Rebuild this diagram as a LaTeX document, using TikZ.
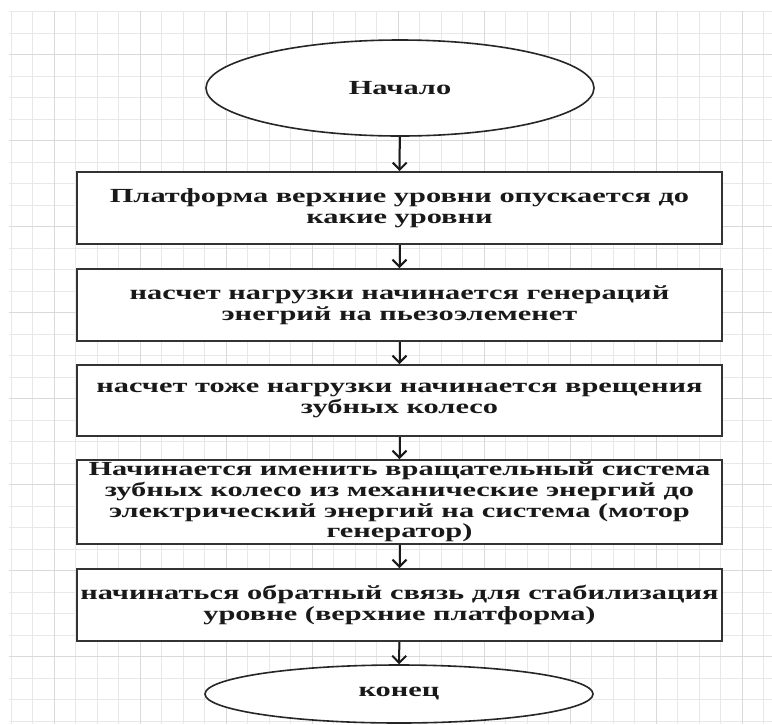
\documentclass[tikz,border=0pt]{standalone}
\usepackage{fontspec}
\setmainfont{Liberation Serif}[FakeStretch=1.52]
\usetikzlibrary{arrows.meta,shapes.geometric}
\begin{document}
\begin{tikzpicture}[x=1pt,y=-1pt,
  txt/.style={font=\bfseries\fontsize{20}{20.7}\selectfont, text=black!90},
  stepbox/.style={txt, draw=black!80, line width=2pt, fill=white,
    minimum width=645pt, minimum height=72pt, inner sep=0pt, align=center},
  term/.style={txt, ellipse, draw=black!85, line width=1.6pt, fill=white,
    inner sep=0pt, minimum width=388pt},
  flow/.style={-{Straight Barb[length=7pt,width=14pt,line width=2pt]}, line width=2pt, draw=black!90},
  gridminor/.style={draw=black!9, line width=0.7pt},
  gridmajor/.style={draw=black!15, line width=0.8pt}
]
\useasboundingbox (0,0) rectangle (772,724);
\fill[white] (0,0) rectangle (772,724);
% grid
\foreach \i in {0,...,35} {\draw[gridminor] ({11+21.5*\i},11) -- ({11+21.5*\i},724);}
\foreach \j in {0,...,33} {\draw[gridminor] (9,{11.5+21.5*\j}) -- (772,{11.5+21.5*\j});}
\foreach \i in {0,...,8} {\draw[gridmajor] ({54+86*\i},11) -- ({54+86*\i},724);}
\foreach \j in {0,...,7} {\draw[gridmajor] (9,{54.5+86*\j}) -- (772,{54.5+86*\j});}
% nodes
\node[term, minimum height=96pt] (start) at (400,88) {Начало};
\node[stepbox] (b1) at (399.5,208) {Платформа верхние уровни опускается до\\какие уровни};
\node[stepbox] (b2) at (399.5,305) {насчет нагрузки начинается генераций\\энегрий на пьезоэлеменет};
\node[stepbox, minimum height=71pt] (b3) at (399.5,400.5) {насчет тоже нагрузки начинается врещения\\зубных колесо};
\node[stepbox, minimum height=84pt] (b4) at (399.5,502) {Начинается именить вращательный система\\зубных колесо из механические энергий до\\электрический энергий на система (мотор\\генератор)};
\node[stepbox] (b5) at (399.5,605) {начинаться обратный связь для стабилизация\\уровне (верхние платформа)};
\node[term, minimum height=58pt] (end) at (399,694) {конец};
% connectors
\draw[flow] (start) -- (b1);
\draw[flow] (b1) -- (b2);
\draw[flow] (b2) -- (b3);
\draw[flow] (b3) -- (b4);
\draw[flow] (b4) -- (b5);
\draw[flow] (b5) -- (end);
\end{tikzpicture}
\end{document}
